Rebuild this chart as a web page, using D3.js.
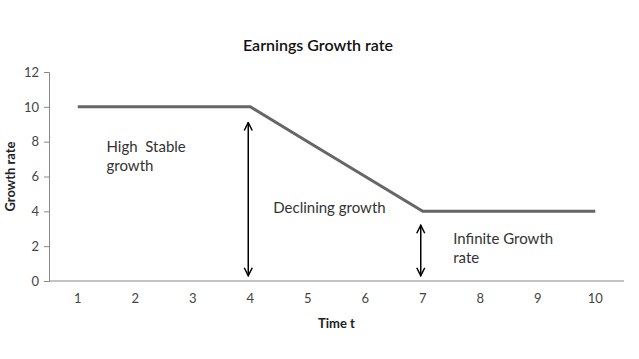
<!DOCTYPE html>
<html>
<head>
<meta charset="utf-8">
<script src="https://cdn.jsdelivr.net/npm/d3@7"></script>
<style>
  body { margin: 0; background: #fff; }
  svg text { font-family: Lato, "Open Sans", sans-serif; }
</style>
</head>
<body>
<div id="chart"></div>
<script>
const periods = [1, 2, 3, 4, 5, 6, 7, 8, 9, 10];
const growthRate = [10, 10, 10, 10, 8, 6, 4, 4, 4, 4];
const yTicks = [0, 2, 4, 6, 8, 10, 12];

// vertical double arrows: period, from, to
const arrowAt = [4, 7];
const arrowTop = [9.1, 3.2];
const arrowBottom = [0.3, 0.3];

const notes = [
    { lines: ["High  Stable", "growth"], t: 1.5, v: 7.4 },
    { lines: ["Declining growth"], t: 4.4, v: 3.9 },
    { lines: ["Infinite Growth", "rate"], t: 7.53, v: 2.1 }
];

const width = 639, height = 359;
const margin = { top: 72, right: 15, bottom: 78, left: 49 };

const svg = d3.select("#chart").append("svg")
    .attr("width", width)
    .attr("height", height);

const xScale = d3.scaleBand().domain(periods).range([margin.left, width - margin.right]);
const yScale = d3.scaleLinear().domain([0, 12]).range([height - margin.bottom, margin.top]);
const xc = d => xScale(d) + xScale.bandwidth() / 2;
// continuous position along the period axis, for annotations
const tScale = d3.scaleLinear().domain([1, 10]).range([xc(1), xc(10)]);

// axes
const yAxis = d3.axisLeft(yScale).tickValues(yTicks).tickSize(5).tickPadding(5);
const gy = svg.append("g")
    .attr("transform", `translate(${margin.left},0)`)
    .call(yAxis);
gy.select(".domain").attr("stroke", "#888");
gy.selectAll(".tick line").attr("stroke", "#888");
gy.selectAll("text").style("font-size", "13px").attr("fill", "#444");

const xAxis = d3.axisBottom(xScale).tickSize(0).tickPadding(13);
const gx = svg.append("g")
    .attr("transform", `translate(0,${height - margin.bottom})`)
    .call(xAxis);
gx.select(".domain").attr("stroke", "#888").attr("d", `M${margin.left},0H${width - margin.right}`);
gx.selectAll("text").style("font-size", "13px").attr("fill", "#444");

// line
const lineGenerator = d3.line()
    .x((d, i) => xc(periods[i]))
    .y(d => yScale(d));

svg.append("path")
    .datum(growthRate)
    .attr("fill", "none")
    .attr("stroke", "#666")
    .attr("stroke-width", 3)
    .attr("d", lineGenerator);

// arrows
svg.append("defs").append("marker")
    .attr("id", "head")
    .attr("viewBox", "0 0 10 10")
    .attr("refX", 9).attr("refY", 5)
    .attr("markerWidth", 10).attr("markerHeight", 10)
    .attr("markerUnits", "userSpaceOnUse")
    .attr("orient", "auto-start-reverse")
    .append("path")
    .attr("d", "M1,1 L9,5 L1,9")
    .attr("fill", "none")
    .attr("stroke", "#000")
    .attr("stroke-width", 1.5);

arrowAt.forEach((t, i) => {
    svg.append("line")
        .attr("x1", xc(t) - 2).attr("x2", xc(t) - 2)
        .attr("y1", yScale(arrowTop[i])).attr("y2", yScale(arrowBottom[i]))
        .attr("stroke", "#000")
        .attr("stroke-width", 1.5)
        .attr("marker-start", "url(#head)")
        .attr("marker-end", "url(#head)");
});

// annotations
notes.forEach(n => {
    const txt = svg.append("text")
        .attr("x", tScale(n.t))
        .attr("y", yScale(n.v))
        .style("font-size", "15px")
        .attr("fill", "#333")
        .attr("xml:space", "preserve");
    n.lines.forEach((l, j) => {
        txt.append("tspan")
            .attr("x", tScale(n.t))
            .attr("dy", j === 0 ? 0 : 19)
            .text(l);
    });
});

// titles
svg.append("text")
    .attr("x", 318).attr("y", 51)
    .attr("text-anchor", "middle")
    .style("font-size", "16px")
    .style("font-weight", "600")
    .attr("fill", "#111")
    .text("Earnings Growth rate");

svg.append("text")
    .attr("x", (margin.left + width - margin.right) / 2)
    .attr("y", 328)
    .attr("text-anchor", "middle")
    .style("font-size", "13px")
    .style("font-weight", "bold")
    .attr("fill", "#222")
    .text("Time t");

svg.append("text")
    .attr("transform", `translate(15,${(yScale(0) + yScale(12)) / 2}) rotate(-90)`)
    .attr("text-anchor", "middle")
    .style("font-size", "13px")
    .style("font-weight", "bold")
    .attr("fill", "#222")
    .text("Growth rate");
</script>
</body>
</html>
